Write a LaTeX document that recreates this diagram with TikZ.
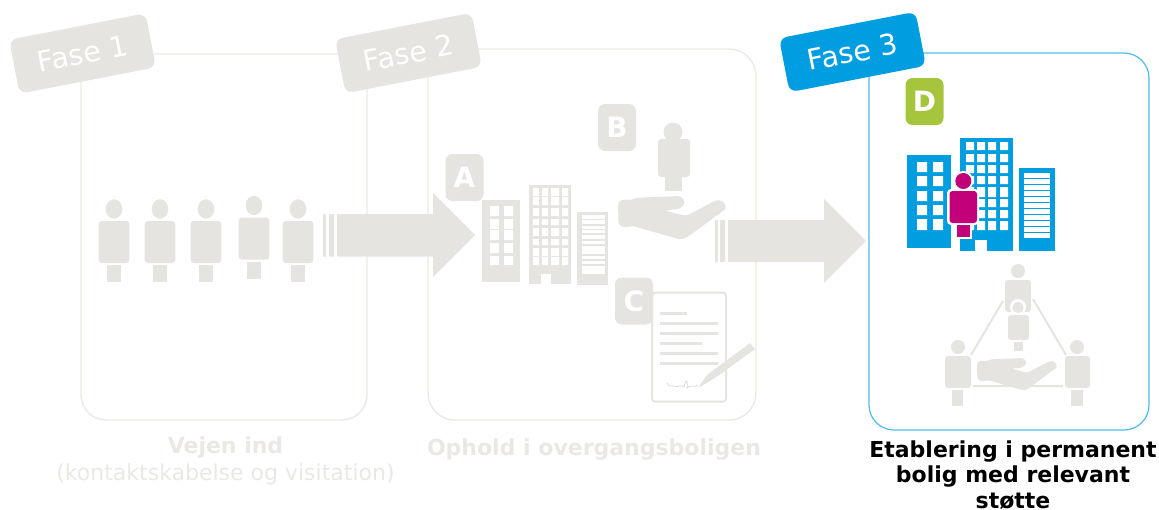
\documentclass[tikz,border=0pt]{standalone}
\usepackage{fontspec}
\setmainfont{DejaVu Sans}
\definecolor{gry}{HTML}{E5E4E0}
\definecolor{lgry}{HTML}{EAE9E5}
\definecolor{txtg}{HTML}{E9E8E4}
\definecolor{blu}{HTML}{009EE0}
\definecolor{lblu}{HTML}{4DBBE9}
\definecolor{mag}{HTML}{C2007A}
\definecolor{grn}{HTML}{A5C53C}
\newcommand\pfs[1]{\fontsize{#1}{#1}\selectfont}
% colour, head cx, cy, rx, ry, body x1,y1,x2,y2
\newcommand\mybody[9]{\fill[#1] (#2,#3) ellipse [x radius=#4,y radius=#5];\fill[#1,rounded corners=3] (#6,#7) rectangle (#8,#9);}
% person of the row in phase 1
\newcommand\rowman[2]{%
  \begin{scope}[shift={(#1,#2)}]
  \mybody{gry}{0}{-1}{8.3}{9.7}{-15.3}{11}{15.3}{53}
  \fill[gry] (-7,55) rectangle (7,72);
  \end{scope}}
% hand at origin, scale
\newcommand\myhand[3]{%
  \begin{scope}[shift={(#1,#2)},x=#3pt,y=-#3pt]
  \fill[gry,rounded corners=#3*3.2pt] (0,6) -- (5.7,3) -- (10.7,4.5) -- (19,1.8) -- (63,0) -- (67.5,6.5) -- (62,13) -- (46,14.3) -- (68,20) -- (97.5,4.5) -- (104,4) -- (109,12) -- (72.3,39) -- (64,44) -- (17.3,30.7) -- (12.3,30) -- (7.3,32) -- (0.5,29) -- cycle;
  \end{scope}}
\tikzset{
  tag/.style={rectangle,rounded corners=8pt,minimum width=139pt,minimum height=55pt,rotate=11,text=white,font=\pfs{28.5},inner sep=0pt},
  letter/.style={rectangle,rounded corners=7pt,minimum width=38pt,minimum height=47pt,text=white,font=\pfs{28}\bfseries,inner sep=0pt},
  frameA/.style={draw=lgry,line width=1.4pt,rounded corners=25pt},
  capt/.style={font=\pfs{22},align=center,inner sep=0pt}
}
\begin{document}
\begin{tikzpicture}[x=1pt,y=-1pt]
\useasboundingbox (0,0) rectangle (1159,509);
% frames
\draw[frameA] (81,54) rectangle (367,420);
\draw[frameA,rounded corners=27pt] (428,49) rectangle (756,420);
\draw[draw=lblu,line width=1.2pt,rounded corners=25pt] (869,53) rectangle (1149,430);
% tags
\node[tag,fill=gry] (fase1) at (82.5,53.5) {Fase 1};
\node[tag,fill=gry] (fase2) at (408.5,53) {Fase 2};
\node[tag,fill=blu] (fase3) at (852.5,52) {Fase 3};
% people of phase 1
\rowman{114}{210}\rowman{160}{210}\rowman{206}{210}\rowman{254}{206.5}\rowman{298}{210}
% arrows
\fill[gry] (323,214) rectangle (326,256.5) (329,214) rectangle (334,256.5);
\fill[gry] (337,214) -- (433,214) -- (433,193) -- (475,235) -- (433,277) -- (433,256.5) -- (337,256.5) -- cycle;
\fill[gry] (715,220) rectangle (718,262) (720,220) rectangle (725,262);
\fill[gry] (728,220) -- (824,220) -- (824,199) -- (866,241) -- (824,283) -- (824,262) -- (728,262) -- cycle;
% buildings A
\fill[gry] (482,200) rectangle (520,282);
\foreach \a/\b in {206/216,219/229,230/240,243/253,256/265}
  \fill[white] (490,\a) rectangle (499,\b) (504,\a) rectangle (513,\b);
\fill[gry] (529,185) rectangle (571,283.5);
\fill[white] (541,274) rectangle (551,284);
\foreach \a/\b in {188/196,197/205,208/216,219/225,228/236,239/245,248/256,257/265}
  \fill[white] (533,\a) rectangle (539,\b) (542,\a) rectangle (548,\b) (551,\a) rectangle (559,\b) (562,\a) rectangle (568,\b);
\fill[gry] (577,212) rectangle (608,285);
\foreach \a/\b in {215/219,220/224,226/229,230/233,235/239,241/244,246/254,256/259,261/264,266/274}
  \fill[white] (582,\a) rectangle (605,\b);
% letters
\node[letter,fill=gry] (lA) at (464.5,177.5) {A};
\node[letter,fill=gry] (lB) at (617,127.5) {B};
% person B and hand
\mybody{gry}{673}{132}{9.5}{9.5}{658}{139}{690}{177}
\fill[gry] (665,176) rectangle (682,191);
\myhand{618}{196}{1}
% document
\draw[gry,line width=2pt,fill=white,rounded corners=3pt] (652,292.5) rectangle (726,401.5);
\foreach \a/\b in {313/687,323/718,333/718,343/702,353/718,363/718}
  \fill[gry] (660,\a-1.5) rectangle (\b,\a+1.5);
\node[letter,fill=gry] (lC) at (634,301) {C};
\draw[gry!80!black!60,line width=.6pt] (667,383) .. controls (669,388) and (672,385) .. (674,386) .. controls (678,388) and (680,384) .. (684,387) .. controls (686,378) and (688,380) .. (687,388) .. controls (690,384) and (694,388) .. (698,385);
\fill[gry] (698,388) -- (707,375) -- (750,343) -- (755,349) -- (715,378) -- cycle;
% buildings D
\node[letter,fill=grn] (lD) at (924.5,101.5) {D};
\fill[blu] (907,155) rectangle (951,248);
\foreach \a/\b in {162/172,176/186,191/201,205/215,219/230}
  \fill[white] (917,\a) rectangle (927,\b) (933,\a) rectangle (943,\b);
\fill[blu] (960,138) rectangle (1013,251);
\fill[white] (975,240) rectangle (987,252);
\foreach \a/\b in {142/150,154/162,165/173,176/184,187/197,199/207,210/218,221/230}
  \fill[white] (966,\a) rectangle (974,\b) (977,\a) rectangle (985,\b) (988,\a) rectangle (996,\b) (1000,\a) rectangle (1008,\b);
\fill[blu] (1019,168) rectangle (1055,250.5);
\foreach \a in {173,179,185,191,197,203,209,215,221,227,233}
  \fill[white] (1024,\a) rectangle (1050,\a+4.6);
% magenta person
\fill[white,rounded corners=4] (947,189) rectangle (979,225);
\fill[white] (955,223) rectangle (972,239);
\fill[white] (963.3,181) circle (10);
\mybody{mag}{963.3}{181}{8}{8}{949.5}{191}{977}{223}
\fill[mag] (957,225) rectangle (970,237);
% triad
\draw[gry,line width=2pt] (1003,301) -- (971,355) (1033,299) -- (1066,355) (973,386) -- (1063,386);
\mybody{gry}{1018}{271}{7}{7}{1005}{280}{1031}{312}
\fill[white] (1018,307) circle (8);
\mybody{gry}{1018}{307.5}{5.6}{5.6}{1008}{315}{1029}{340}
\fill[gry] (1014,342) rectangle (1023,351);
\mybody{gry}{958}{347}{7}{7}{945}{356}{971}{388}
\fill[gry] (952,390) rectangle (963,406);
\mybody{gry}{1077}{347}{7}{7}{1065}{356}{1090}{388}
\fill[gry] (1071,390) rectangle (1083,406);
\myhand{977}{358}{0.74}
% captions
\node[capt,text=txtg] (c1) at (225.5,461) {\bfseries Vejen ind\\[5pt]\mdseries (kontaktskabelse og visitation)};
\node[capt,text=txtg,font=\pfs{22}\bfseries] (c2) at (594,450) {Ophold i overgangsboligen};
\node[capt,text=black,font=\pfs{22}\bfseries] (c3) at (1013,475) {Etablering i permanent\\[3.5pt]bolig med relevant\\[3.5pt]støtte};
\end{tikzpicture}
\end{document}
